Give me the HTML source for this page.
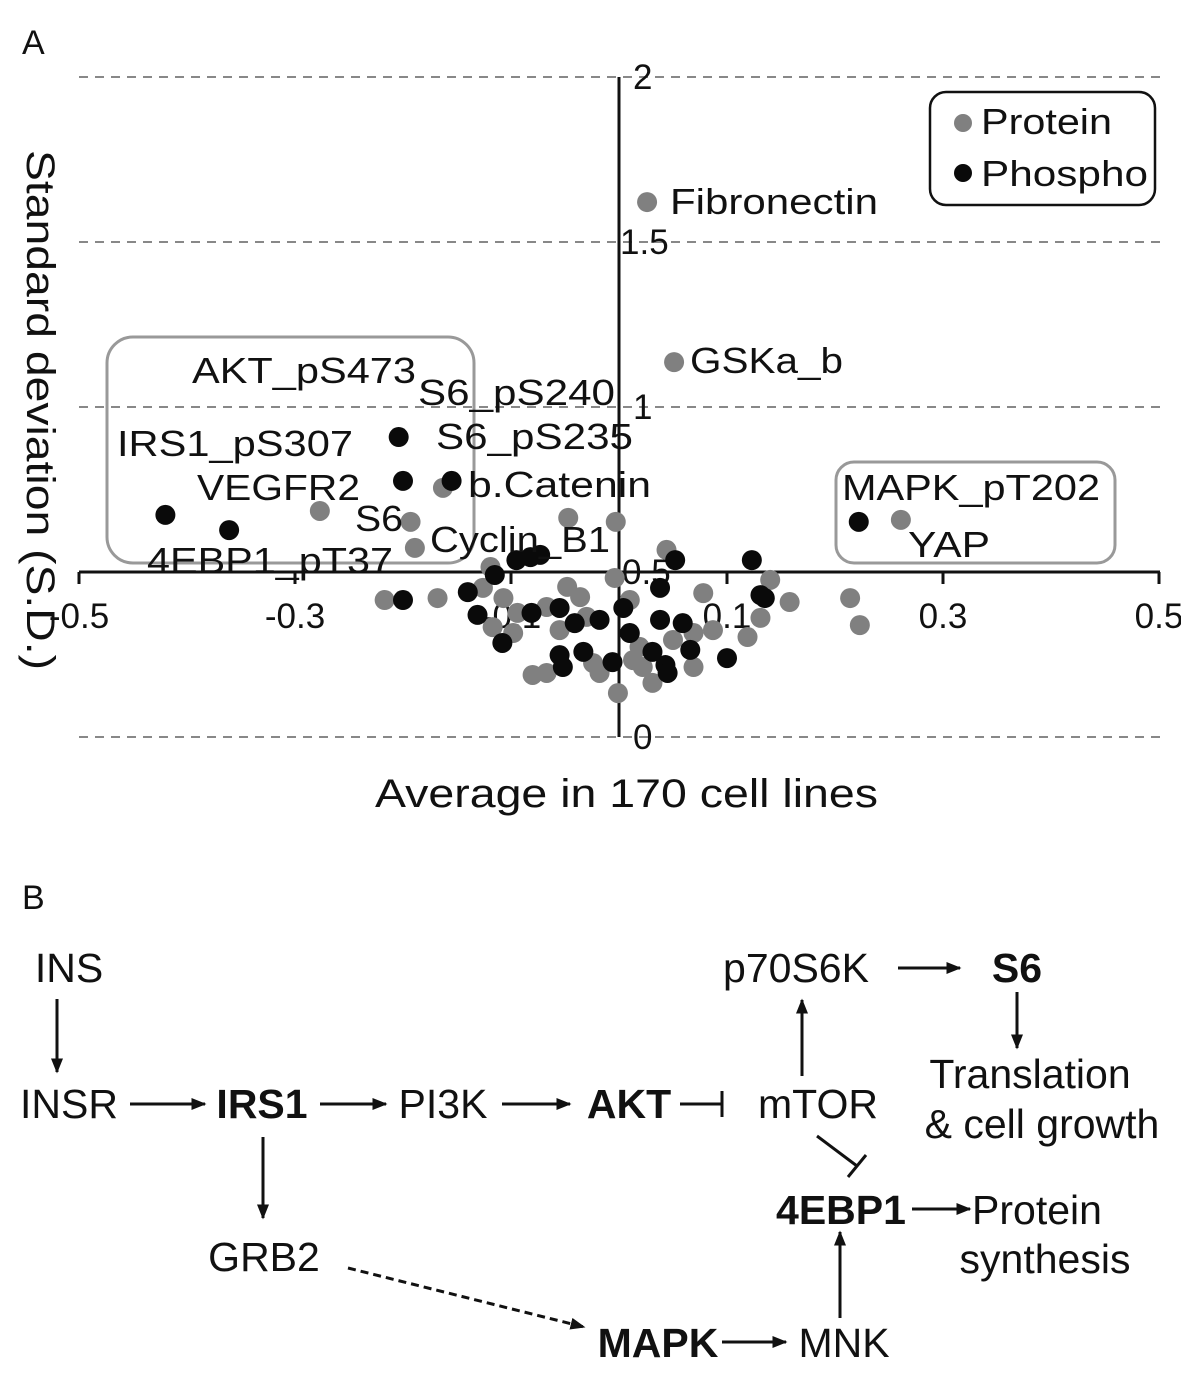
<!DOCTYPE html>
<html><head><meta charset="utf-8"><style>
html,body{margin:0;padding:0;background:#fff}
svg{display:block;font-family:"Liberation Sans",Arial,sans-serif}
</style></head><body>
<svg id="fig" width="1181" height="1382" viewBox="0 0 1181 1382" xmlns="http://www.w3.org/2000/svg">
<defs>
<marker id="ah" viewBox="0 0 10 10" refX="9" refY="5" markerWidth="5" markerHeight="5" orient="auto-start-reverse"><path d="M0,1 L10,5 L0,9 z" fill="#111"/></marker>
</defs>
<text x="22" y="54" font-size="34" fill="#111">A</text>
<g id="grid"></g>
<g id="boxes">
<rect x="107" y="337" width="367" height="226" rx="26" fill="none" stroke="#999" stroke-width="3"/>
<rect x="836" y="462" width="279" height="101" rx="18" fill="none" stroke="#999" stroke-width="3"/>
</g>
<g id="axes"></g>
<g id="pts"></g>
<g id="lbls" font-size="36" fill="#111" lengthAdjust="spacingAndGlyphs">
<text x="670" y="214" textLength="208" lengthAdjust="spacingAndGlyphs">Fibronectin</text>
<text x="690" y="373" textLength="153" lengthAdjust="spacingAndGlyphs">GSKa_b</text>
<text x="192" y="383" textLength="224" lengthAdjust="spacingAndGlyphs">AKT_pS473</text>
<text x="418" y="405" textLength="197" lengthAdjust="spacingAndGlyphs">S6_pS240</text>
<text x="117" y="456" textLength="236" lengthAdjust="spacingAndGlyphs">IRS1_pS307</text>
<text x="436" y="449" textLength="197" lengthAdjust="spacingAndGlyphs">S6_pS235</text>
<text x="197" y="500" textLength="163" lengthAdjust="spacingAndGlyphs">VEGFR2</text>
<text x="468" y="497" textLength="183" lengthAdjust="spacingAndGlyphs">b.Catenin</text>
<text x="355" y="531" textLength="48" lengthAdjust="spacingAndGlyphs">S6</text>
<text x="430" y="552" textLength="180" lengthAdjust="spacingAndGlyphs">Cyclin_B1</text>
<text x="147" y="573" textLength="246" lengthAdjust="spacingAndGlyphs">4EBP1_pT37</text>
<text x="842" y="500" textLength="258" lengthAdjust="spacingAndGlyphs">MAPK_pT202</text>
<text x="908" y="557" textLength="82" lengthAdjust="spacingAndGlyphs">YAP</text>
</g>
<g>
<rect x="930" y="92" width="225" height="113" rx="16" fill="#fff" stroke="#111" stroke-width="2.5"/>
<circle cx="963" cy="123" r="9" fill="#808080"/>
<text x="981" y="134" font-size="36" fill="#111" textLength="131" lengthAdjust="spacingAndGlyphs">Protein</text>
<circle cx="963" cy="173" r="9" fill="#0a0a0a"/>
<text x="981" y="186" font-size="36" fill="#111" textLength="167" lengthAdjust="spacingAndGlyphs">Phospho</text>
</g>
<text transform="translate(27,150) rotate(90)" font-size="40" fill="#111" textLength="520" lengthAdjust="spacingAndGlyphs">Standard deviation (S.D.)</text>
<text x="375" y="807" font-size="40" fill="#111" textLength="503" lengthAdjust="spacingAndGlyphs">Average in 170 cell lines</text>

<text x="22" y="909" font-size="34" fill="#111">B</text>
<g font-size="41" fill="#111">
<text x="69" y="982" text-anchor="middle">INS</text>
<text x="69" y="1118" text-anchor="middle">INSR</text>
<text x="262" y="1118" text-anchor="middle" font-weight="bold">IRS1</text>
<text x="443" y="1118" text-anchor="middle">PI3K</text>
<text x="629" y="1118" text-anchor="middle" font-weight="bold">AKT</text>
<text x="818" y="1118" text-anchor="middle">mTOR</text>
<text x="796" y="982" text-anchor="middle">p70S6K</text>
<text x="1017" y="982" text-anchor="middle" font-weight="bold">S6</text>
<text x="1030" y="1088" text-anchor="middle">Translation</text>
<text x="1042" y="1138" text-anchor="middle">&amp; cell growth</text>
<text x="841" y="1224" text-anchor="middle" font-weight="bold">4EBP1</text>
<text x="1037" y="1224" text-anchor="middle">Protein</text>
<text x="1045" y="1273" text-anchor="middle">synthesis</text>
<text x="264" y="1271" text-anchor="middle">GRB2</text>
<text x="658" y="1357" text-anchor="middle" font-weight="bold">MAPK</text>
<text x="844" y="1357" text-anchor="middle">MNK</text>
</g>
<g stroke="#111" stroke-width="3" fill="none">
<line x1="57" y1="999" x2="57" y2="1072" marker-end="url(#ah)"/>
<line x1="130" y1="1104" x2="205" y2="1104" marker-end="url(#ah)"/>
<line x1="263" y1="1137" x2="263" y2="1218" marker-end="url(#ah)"/>
<line x1="320" y1="1104" x2="386" y2="1104" marker-end="url(#ah)"/>
<line x1="502" y1="1104" x2="570" y2="1104" marker-end="url(#ah)"/>
<line x1="680" y1="1104" x2="722" y2="1104"/>
<line x1="722" y1="1091" x2="722" y2="1117"/>
<line x1="802" y1="1076" x2="802" y2="1000" marker-end="url(#ah)"/>
<line x1="898" y1="968" x2="960" y2="968" marker-end="url(#ah)"/>
<line x1="1017" y1="992" x2="1017" y2="1048" marker-end="url(#ah)"/>
<line x1="817" y1="1136" x2="857" y2="1166"/>
<line x1="848" y1="1177" x2="866" y2="1155"/>
<line x1="912" y1="1209" x2="970" y2="1209" marker-end="url(#ah)"/>
<line x1="840" y1="1318" x2="840" y2="1232" marker-end="url(#ah)"/>
<line x1="722" y1="1342" x2="786" y2="1342" marker-end="url(#ah)"/>
<line x1="348" y1="1268" x2="584" y2="1327" stroke-dasharray="8,5" marker-end="url(#ah)"/>
</g>
</svg>
<script>
const proteinX=[0.026,0.051,-0.163,-0.277,-0.193,-0.189,-0.047,-0.003,0.261,0.140,-0.119,-0.217,-0.168,-0.126,-0.107,-0.117,-0.098,-0.094,-0.048,-0.036,-0.067,-0.055,-0.030,-0.080,-0.067,-0.024,-0.018,-0.001,-0.004,0.010,0.019,0.013,0.022,0.031,0.050,0.044,0.069,0.069,0.078,0.087,0.119,0.131,0.158,0.214,0.223];
const proteinY=[1.621,1.136,0.755,0.685,0.652,0.573,0.664,0.652,0.658,0.476,0.515,0.415,0.421,0.452,0.421,0.333,0.315,0.376,0.455,0.424,0.394,0.324,0.364,0.188,0.194,0.224,0.194,0.133,0.482,0.415,0.273,0.233,0.212,0.164,0.294,0.567,0.315,0.212,0.436,0.324,0.303,0.361,0.409,0.421,0.339];
const phosphoX=[-0.204,-0.200,-0.155,-0.420,-0.361,0.222,-0.095,-0.082,-0.073,0.123,-0.115,-0.200,-0.140,-0.131,-0.108,-0.081,-0.055,-0.041,-0.018,-0.055,-0.052,-0.033,-0.006,0.004,0.010,0.031,0.043,0.045,0.038,0.038,0.052,0.059,0.066,0.100,0.131,0.135];
const phosphoY=[0.909,0.776,0.776,0.673,0.627,0.652,0.536,0.545,0.552,0.536,0.491,0.415,0.439,0.370,0.285,0.376,0.391,0.345,0.355,0.248,0.212,0.258,0.227,0.391,0.315,0.258,0.218,0.194,0.355,0.452,0.536,0.345,0.264,0.239,0.430,0.421];
const yTicks=[0,0.5,1,1.5,2];
const yTickLabels=["0","0.5","1","1.5","2"];
const xTicks=[-0.5,-0.3,-0.1,0.1,0.3,0.5];
const xTickLabels=["-0.5","-0.3","-0.1","0.1","0.3","0.5"];
const NS="http://www.w3.org/2000/svg";
const sx=v=>619+v*1080, sy=v=>737-v*330;
function mk(tag,attrs,parent){const e=document.createElementNS(NS,tag);for(const k in attrs)e.setAttribute(k,attrs[k]);parent.appendChild(e);return e;}
const grid=document.getElementById('grid'),axes=document.getElementById('axes'),pts=document.getElementById('pts');
yTicks.forEach((t,i)=>{
 if(t!==0.5){const l=mk('line',{x1:79,x2:1160,y1:sy(t),y2:sy(t),stroke:'#888','stroke-width':2,'stroke-dasharray':'9,7'},grid);
 
 }
 const tx=mk('text',{x:t===1.5?620:(t===0.5?622:633),y:sy(t)+12,'font-size':35,fill:'#111'},axes);
 tx.textContent=yTickLabels[i];
 
 
});
let a=mk('line',{x1:79,x2:1160,y1:sy(0.5),y2:sy(0.5),stroke:'#111','stroke-width':3},axes);


a=mk('line',{x1:sx(0),x2:sx(0),y1:sy(2),y2:sy(0),stroke:'#111','stroke-width':3},axes);


xTicks.forEach((t,i)=>{
 const tk=mk('line',{x1:sx(t),x2:sx(t),y1:sy(0.5),y2:sy(0.5)+12,stroke:'#111','stroke-width':3},axes);
 
 
 const tx=mk('text',{x:sx(t),y:sy(0.5)+56,'font-size':35,fill:'#111','text-anchor':'middle'},axes);
 tx.textContent=xTickLabels[i];
 
 
});
proteinX.forEach((v,i)=>{
 const c=mk('circle',{cx:sx(v),cy:sy(proteinY[i]),r:10,fill:'#808080'},pts);
 
 
});
phosphoX.forEach((v,i)=>{
 const c=mk('circle',{cx:sx(v),cy:sy(phosphoY[i]),r:10,fill:'#0a0a0a'},pts);
 
 
});
</script>
</body></html>
